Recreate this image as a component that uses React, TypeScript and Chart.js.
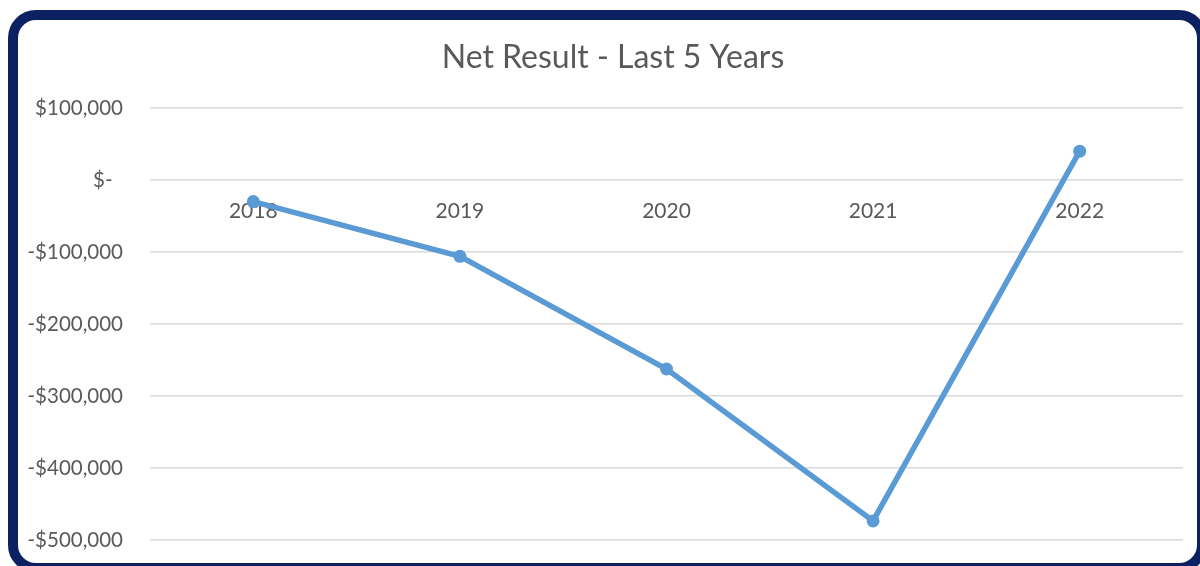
import React, { useEffect, useRef } from "react";
import { Chart, registerables } from "chart.js";

Chart.register(...registerables);

const titleText = "Net Result - Last 5 Years";
const years = ["2018", "2019", "2020", "2021", "2022"];
const netResult = [-30000, -106000, -262500, -473500, 40000];
const yMin = -500000;
const yMax = 100000;
const yStep = 100000;

const TEXT = "#595959";
const GRID = "#d9d9d9";
const LINE = "#5b9bd5";
const NAVY = "#0b2161";
const FONT = "Lato, 'Open Sans', sans-serif";

function fmtMoney(v: number): string {
  if (v === 0) return "$-  ";
  const abs = Math.abs(v).toLocaleString("en-US");
  return (v < 0 ? "-$" : "$") + abs;
}

const titlePlugin = {
  id: "customTitle",
  afterDraw(chart: any) {
    const ctx = chart.ctx;
    ctx.save();
    ctx.font = `32px ${FONT}`;
    ctx.fillStyle = TEXT;
    ctx.textAlign = "center";
    ctx.textBaseline = "middle";
    ctx.fillText(titleText, 613, 58);
    ctx.restore();
  },
};

export default function App() {
  const ref = useRef<HTMLCanvasElement | null>(null);

  useEffect(() => {
    if (!ref.current) return;
    const chart = new Chart(ref.current, {
      type: "line",
      data: {
        labels: years,
        datasets: [
          {
            data: netResult,
            borderColor: LINE,
            backgroundColor: LINE,
            borderWidth: 5.5,
            pointRadius: 6.5,
            pointBackgroundColor: LINE,
            pointBorderColor: LINE,
            pointBorderWidth: 0,
            tension: 0,
            fill: false,
          },
        ],
      },
      plugins: [titlePlugin],
      options: {
        animation: false,
        responsive: false,
        maintainAspectRatio: false,
        layout: { padding: { top: 108, right: 17, bottom: 26, left: 0 } },
        plugins: {
          legend: { display: false },
          title: { display: false },
          tooltip: { enabled: false },
        },
        scales: {
          x: {
            type: "category",
            position: { y: 0 } as any,
            offset: true,
            afterFit(scale: any) {
              scale.height = 0;
            },
            grid: { display: false, drawTicks: false },
            border: { display: false },
            ticks: {
              color: TEXT,
              font: { family: FONT, size: 21 },
              padding: 19,
              maxRotation: 0,
            },
          },
          y: {
            min: yMin,
            max: yMax,
            afterFit(scale: any) {
              scale.width = 150;
              scale.paddingTop = 0;
              scale.paddingBottom = 0;
            },
            grid: { color: GRID, lineWidth: 1.5, drawTicks: false },
            border: { display: false },
            ticks: {
              stepSize: yStep,
              color: TEXT,
              font: { family: FONT, size: 20.5 },
              padding: 27,
              callback: (v: any) => fmtMoney(Number(v)),
            },
          },
        },
      },
    });
    return () => chart.destroy();
  }, []);

  return (
    <div
      style={{
        position: "fixed",
        left: 0,
        top: 0,
        width: 1200,
        height: 566,
        overflow: "hidden",
        background: "#ffffff",
      }}
    >
      <canvas
        ref={ref}
        width={1200}
        height={566}
        style={{ position: "absolute", left: 0, top: 0, width: 1200, height: 566 }}
      />
      <div
        style={{
          position: "absolute",
          left: 8,
          top: 10,
          width: 1199,
          height: 563,
          boxSizing: "border-box",
          border: `10px solid ${NAVY}`,
          borderRadius: 28,
          pointerEvents: "none",
        }}
      />
    </div>
  );
}
